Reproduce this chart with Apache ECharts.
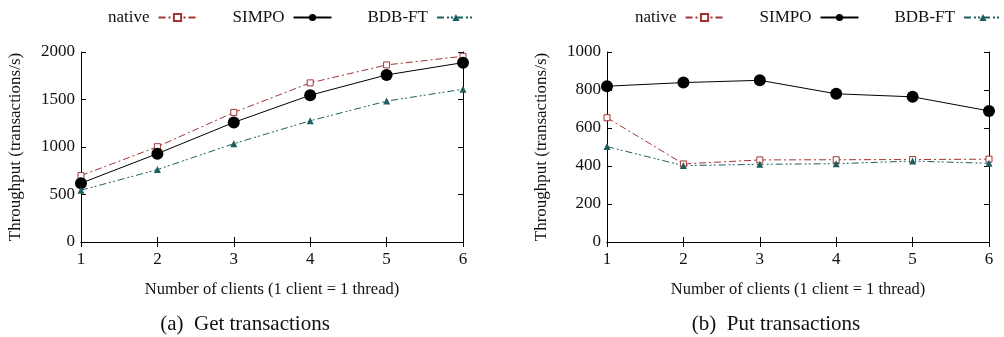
<!DOCTYPE html>
<html>
<head>
<meta charset="utf-8">
<script src="https://cdn.jsdelivr.net/npm/echarts@6/dist/echarts.min.js"></script>
<style>
  html, body {margin: 0; padding: 0; background: #fff;}
  #chart {width: 1004px; height: 337px;}
</style>
</head>
<body>
<div id="chart"></div>
<script>
const clients = ['1', '2', '3', '4', '5', '6'];
const getNative = [699, 1003, 1364, 1675, 1864, 1955];
const getSimpo = [619, 930, 1259, 1545, 1759, 1888];
const getBdb = [545, 762, 1035, 1276, 1483, 1608];
const putNative = [654, 411, 432, 433, 434, 436];
const putSimpo = [820, 839, 851, 780, 764, 690];
const putBdb = [502, 402, 409, 412, 426, 414];
const getTicks = [0, 500, 1000, 1500, 2000];
const putTicks = [0, 200, 400, 600, 800, 1000];

const font = 'Liberation Serif';
const red = '#a33434';
const teal = '#1d5e5e';

var myChart = echarts.init(document.getElementById('chart'));

function xAxes(grid) {
  return [
    {
      type: 'category', gridIndex: grid, data: clients, boundaryGap: false,
      name: 'Number of clients (1 client = 1 thread)',
      nameLocation: 'middle', nameGap: 39,
      nameTextStyle: {fontFamily: font, fontSize: 16.5, color: '#111'},
      axisLine: {lineStyle: {color: '#000', width: 1}},
      axisTick: {inside: true, length: 5, lineStyle: {color: '#000'}},
      axisLabel: {fontFamily: font, fontSize: 17, color: '#111', margin: 9},
      splitLine: {show: false}
    },
    {
      type: 'category', gridIndex: grid, data: clients, boundaryGap: false,
      position: 'top',
      axisLine: {lineStyle: {color: '#000', width: 1}},
      axisTick: {inside: true, length: 5, lineStyle: {color: '#000'}},
      axisLabel: {show: false},
      splitLine: {show: false}
    }
  ];
}

function yAxes(grid, ticks) {
  const max = ticks[ticks.length - 1];
  const step = ticks[1] - ticks[0];
  return [
    {
      type: 'value', gridIndex: grid, min: 0, max: max, interval: step,
      name: 'Throughput (transactions/s)',
      nameLocation: 'middle', nameGap: 57,
      nameTextStyle: {fontFamily: font, fontSize: 17, color: '#111'},
      axisLine: {show: true, lineStyle: {color: '#000', width: 1}},
      axisTick: {show: true, inside: true, length: 5, lineStyle: {color: '#000'}},
      axisLabel: {fontFamily: font, fontSize: 17, color: '#111', margin: 6,
        formatter: (v) => String(v)},
      splitLine: {show: false}
    },
    {
      type: 'value', gridIndex: grid, min: 0, max: max, interval: step,
      position: 'right',
      axisLine: {show: true, lineStyle: {color: '#000', width: 1}},
      axisTick: {show: true, inside: true, length: 5, lineStyle: {color: '#000'}},
      axisLabel: {show: false},
      splitLine: {show: false}
    }
  ];
}

function series(grid, nat, sim, bdb) {
  const xi = grid * 2;
  const yi = grid * 2;
  return [
    {
      name: 'native', type: 'line', xAxisIndex: xi, yAxisIndex: yi, data: nat,
      color: red, symbol: 'rect', symbolSize: 6,
      itemStyle: {color: '#fff', borderColor: red, borderWidth: 1},
      lineStyle: {color: red, width: 1, type: [7, 3, 2, 3]}
    },
    {
      name: 'SIMPO', type: 'line', xAxisIndex: xi, yAxisIndex: yi, data: sim,
      color: '#000', symbol: 'circle', symbolSize: 12,
      itemStyle: {color: '#000'},
      lineStyle: {color: '#000', width: 1}
    },
    {
      name: 'BDB-FT', type: 'line', xAxisIndex: xi, yAxisIndex: yi, data: bdb,
      color: teal, symbol: 'triangle', symbolSize: 7,
      itemStyle: {color: teal},
      lineStyle: {color: teal, width: 1, type: [7, 3, 2, 2, 2, 3]}
    }
  ];
}

function legend(left) {
  return {
    data: ['native', 'SIMPO', 'BDB-FT'],
    top: 4, left: left, width: 400, align: 'right',
    itemWidth: 38, itemHeight: 9, itemGap: 35,
    selectedMode: false,
    textStyle: {fontFamily: font, fontSize: 17, color: '#111', padding: [0, 4, 0, 0]}
  };
}

myChart.setOption({
  animation: false,
  backgroundColor: '#fff',
  title: [
    {text: '(a)  Get transactions', left: 240, top: 309, textAlign: 'center',
      textStyle: {fontFamily: font, fontSize: 21, fontWeight: 'normal', color: '#111'}},
    {text: '(b)  Put transactions', left: 771, top: 309, textAlign: 'center',
      textStyle: {fontFamily: font, fontSize: 21, fontWeight: 'normal', color: '#111'}}
  ],
  legend: [legend(103), legend(630)],
  grid: [
    {left: 81, width: 382, top: 52, height: 190},
    {left: 607, width: 382, top: 52, height: 190}
  ],
  xAxis: [...xAxes(0), ...xAxes(1)],
  yAxis: [...yAxes(0, getTicks), ...yAxes(1, putTicks)],
  series: [
    ...series(0, getNative, getSimpo, getBdb),
    ...series(1, putNative, putSimpo, putBdb)
  ]
});
</script>
</body>
</html>
